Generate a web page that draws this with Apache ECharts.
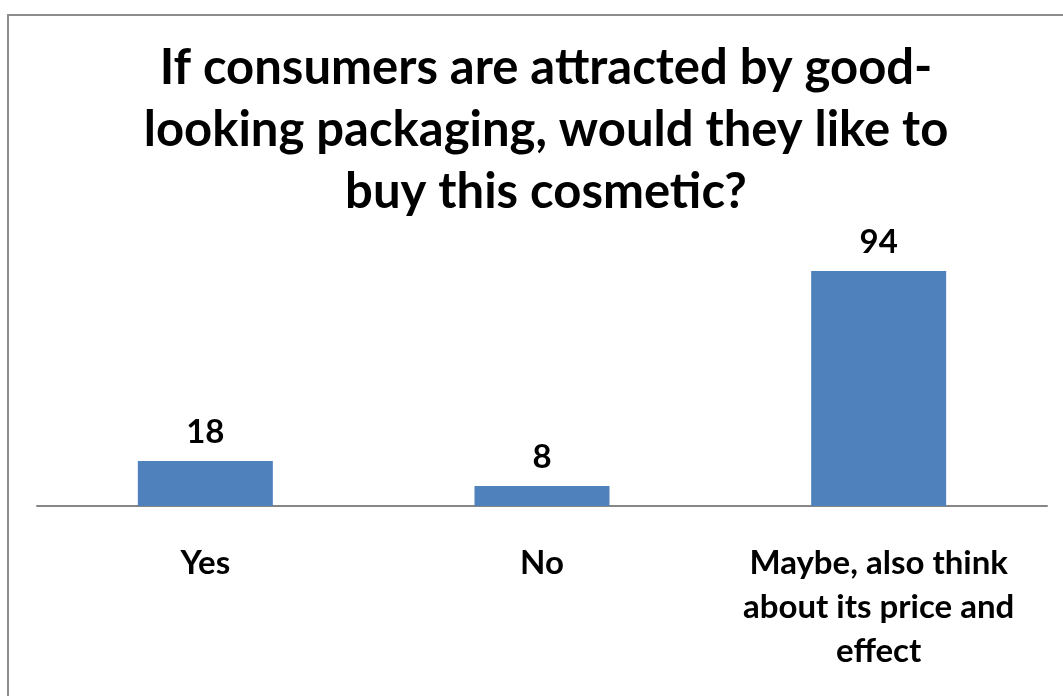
<!DOCTYPE html>
<html>
<head>
<meta charset="utf-8">
<script src="https://cdn.jsdelivr.net/npm/echarts@6/dist/echarts.min.js"></script>
<style>
  html, body { margin: 0; padding: 0; background: #fff; }
  #chart { width: 1063px; height: 696px; }
</style>
</head>
<body>
<div id="chart"></div>
<script>
// Survey answers and response counts
const categories = ['Yes', 'No', 'Maybe, also think\nabout its price and\neffect'];
const counts = [18, 8, 94];
const titleText = 'If consumers are attracted by good-\nlooking packaging, would they like to\nbuy this cosmetic?';

const FONT = 'Lato, "Open Sans", sans-serif';
const chart = echarts.init(document.getElementById('chart'), null, { renderer: 'canvas' });

chart.setOption({
  backgroundColor: '#ffffff',
  animation: false,
  title: {
    text: titleText,
    left: 541,
    top: 32,
    textAlign: 'center',
    textStyle: {
      fontFamily: FONT,
      fontWeight: 'bold',
      fontSize: 49,
      lineHeight: 62,
      color: '#000'
    }
  },
  graphic: [{
    type: 'rect',
    shape: { x: 8, y: 15, width: 1100, height: 720 },
    style: { fill: 'none', stroke: '#8c8c8c', lineWidth: 2 },
    silent: true,
    z: -1
  }],
  grid: { left: 37, right: 16, top: 256, bottom: 190, containLabel: false },
  xAxis: {
    type: 'category',
    data: categories,
    axisLine: { show: true, lineStyle: { color: '#868686', width: 2 } },
    axisTick: { show: false },
    axisLabel: {
      interval: 0,
      margin: 35,
      fontFamily: FONT,
      fontWeight: 'bold',
      fontSize: 33,
      lineHeight: 44,
      color: '#000'
    }
  },
  yAxis: {
    type: 'value',
    min: 0,
    max: 100,
    show: false,
    splitLine: { show: false }
  },
  series: [{
    type: 'bar',
    data: counts,
    barWidth: 135,
    itemStyle: { color: '#4F81BD' },
    label: {
      show: true,
      position: 'top',
      distance: 12,
      fontFamily: FONT,
      fontWeight: 'bold',
      fontSize: 33,
      color: '#000'
    }
  }]
});
</script>
</body>
</html>
